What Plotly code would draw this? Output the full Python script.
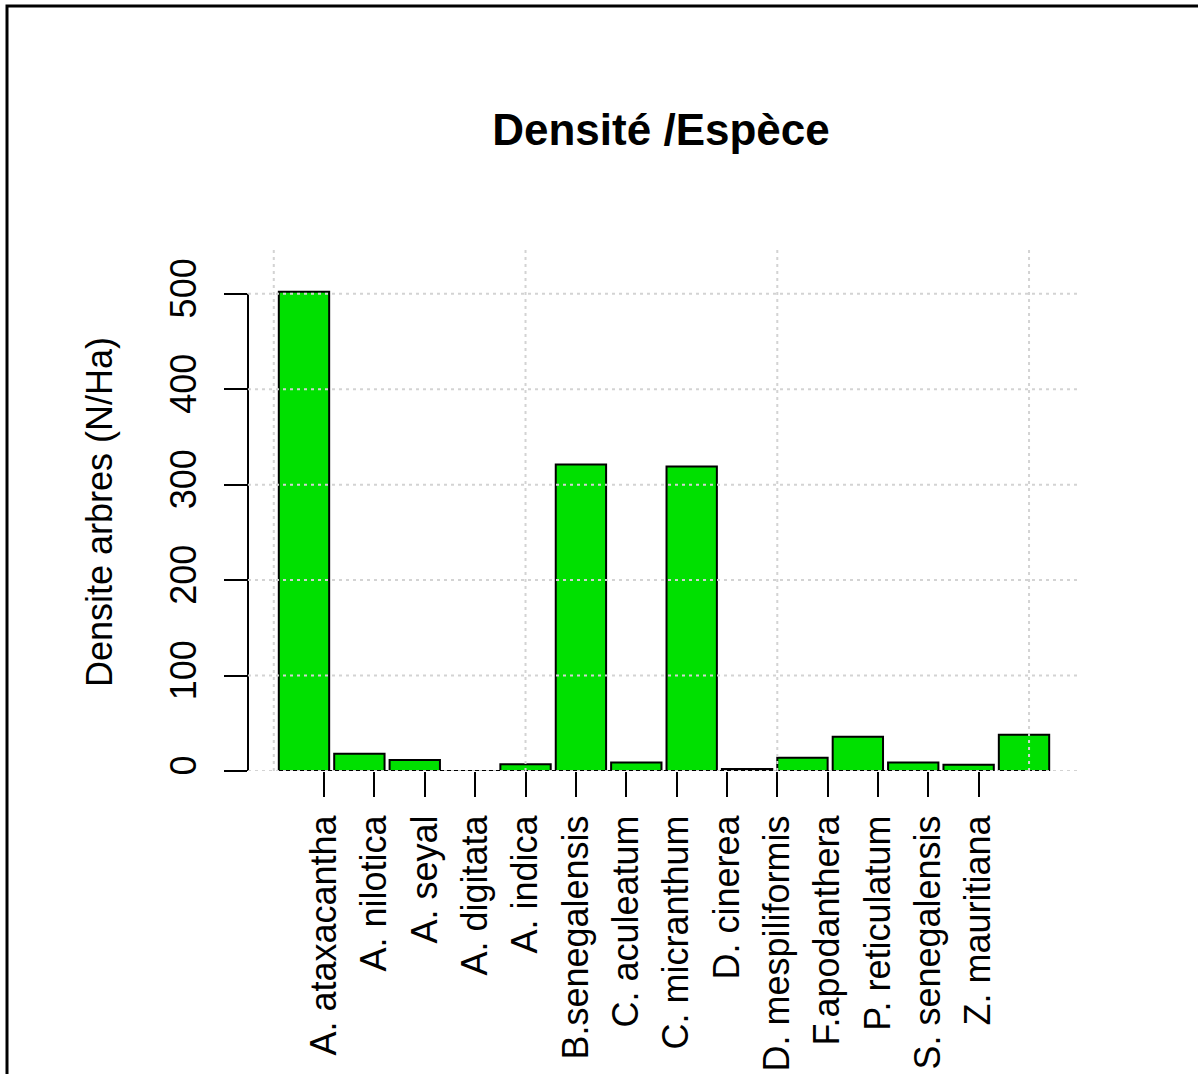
import plotly.graph_objects as go

species = ["A. ataxacantha", "A. nilotica", "A. seyal", "A. digitata", "A. indica",
           "B.senegalensis", "C. aculeatum", "C. micranthum", "D. cinerea",
           "D. mespiliformis", "F.apodanthera", "P. reticulatum", "S. senegalensis",
           "Z. mauritiana"]
densite = [502, 18, 11.5, 0, 7, 321, 9, 319, 2, 14, 36, 9, 6.5, 38]
y_ticks = [0, 100, 200, 300, 400, 500]
x_grid = [0, 5, 10, 15]

W, H = 1198, 1074
L, R, T, B = 248, 118, 246, 303
PW = W - L - R
PH = H - T - B

def px2x(px):
    return (px - L) / PW

def py2y(py):
    return (H - B - py) / PH

n = len(species)
bar_x = [0.6 + 1.1 * i for i in range(n)]
tick_x = [i + 1 for i in range(n)]
xr = [0.1 - 0.04 * 15.3, 15.4 + 0.04 * 15.3]
yr = [0, 550]

font = "Liberation Sans, Arial, sans-serif"
fig = go.Figure()
fig.add_trace(go.Bar(x=bar_x, y=densite, width=1,
                     marker=dict(color="#00E000", line=dict(color="black", width=2)),
                     hoverinfo="skip"))

shapes = []
# x axis line (tick 1 to tick n)
shapes.append(dict(type="line", xref="x", yref="y", x0=tick_x[0], x1=tick_x[-1], y0=0, y1=0,
                   line=dict(color="black", width=2), layer="above"))
# y axis line
shapes.append(dict(type="line", xref="paper", yref="y", x0=0, x1=0, y0=y_ticks[0], y1=y_ticks[-1],
                   line=dict(color="black", width=2), layer="above"))
grid_line = dict(color="#D3D3D3", width=2, dash="3px,4px")
for yv in y_ticks:
    shapes.append(dict(type="line", xref="paper", yref="y", x0=0, x1=1, y0=yv, y1=yv,
                       line=grid_line, layer="above"))
for xv in x_grid:
    shapes.append(dict(type="line", xref="x", yref="paper", x0=xv, x1=xv, y0=0, y1=1,
                       line=grid_line, layer="above"))
# figure border
shapes.append(dict(type="rect", xref="paper", yref="paper",
                   x0=px2x(7), x1=px2x(1215), y0=py2y(1090), y1=py2y(6),
                   line=dict(color="black", width=3), fillcolor="rgba(0,0,0,0)", layer="above"))

fig.update_layout(
    width=W, height=H,
    margin=dict(l=L, r=R, t=T, b=B, autoexpand=False),
    paper_bgcolor="white", plot_bgcolor="white",
    showlegend=False,
    font=dict(family=font, size=36, color="black"),
    title=dict(text="<b>Densité /Espèce</b>", x=px2x(661), xref="paper", xanchor="center",
               y=1 - 130 / H, yanchor="middle", font=dict(family=font, size=44, color="black")),
    shapes=shapes,
    annotations=[dict(text="Densite arbres (N/Ha)", xref="paper", yref="paper",
                      x=px2x(100), y=py2y(512), xanchor="center", yanchor="middle",
                      textangle=-90, showarrow=False, font=dict(family=font, size=36))],
    xaxis=dict(range=xr, showgrid=False, zeroline=False, showline=False,
               tickmode="array", tickvals=tick_x, ticktext=species, tickangle=-90,
               ticks="outside", ticklen=25, tickwidth=2, tickcolor="black",
               ticklabelstandoff=4, tickfont=dict(family=font, size=36)),
    yaxis=dict(range=yr, showgrid=False, zeroline=False, showline=False,
               tickmode="array", tickvals=y_ticks, ticktext=[str(v) for v in y_ticks],
               tickangle=-90, ticks="outside", ticklen=23, tickwidth=2, tickcolor="black",
               ticklabelstandoff=14, tickfont=dict(family=font, size=36)),
)

fig.write_html("out.html")
